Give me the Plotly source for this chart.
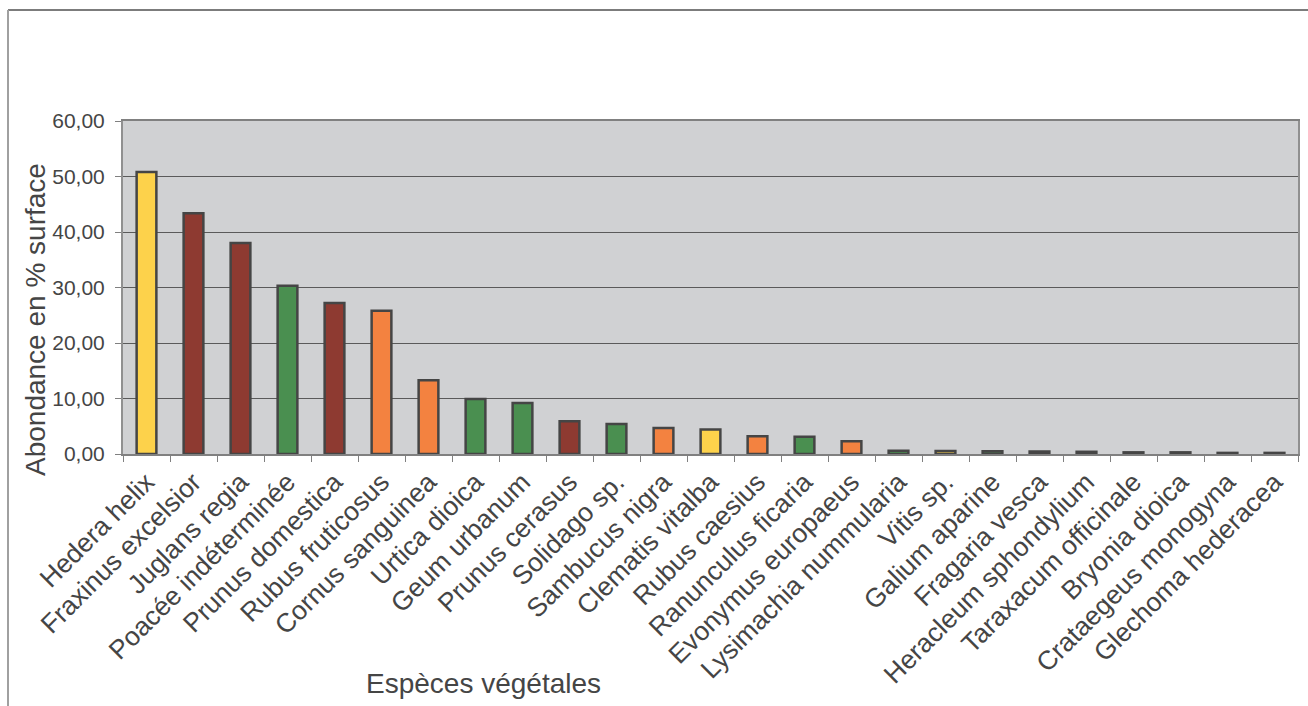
import plotly.graph_objects as go

species = ["Hedera helix", "Fraxinus excelsior", "Juglans regia", "Poacée indéterminée",
           "Prunus domestica", "Rubus fruticosus", "Cornus sanguinea", "Urtica dioica",
           "Geum urbanum", "Prunus cerasus", "Solidago sp.", "Sambucus nigra",
           "Clematis vitalba", "Rubus caesius", "Ranunculus ficaria", "Evonymus europaeus",
           "Lysimachia nummularia", "Vitis sp.", "Galium aparine", "Fragaria vesca",
           "Heracleum sphondylium", "Taraxacum officinale", "Bryonia dioica",
           "Crataegeus monogyna", "Glechoma hederacea"]
abundance = [50.8, 43.4, 38.0, 30.3, 27.2, 25.8, 13.3, 9.9, 9.2, 5.9, 5.4, 4.7, 4.4,
             3.2, 3.1, 2.3, 0.6, 0.55, 0.5, 0.45, 0.4, 0.3, 0.3, 0.2, 0.2]
groups = ["yellow", "red", "red", "green", "red", "orange", "orange", "green", "green",
          "red", "green", "orange", "yellow", "orange", "green", "orange", "green",
          "yellow", "green", "green", "green", "green", "green", "red", "green"]
palette = {"yellow": "#FDD24B", "red": "#8E3A31", "green": "#4A8F50", "orange": "#F38240"}

fig = go.Figure(go.Bar(
    x=species, y=abundance,
    marker=dict(color=[palette[g] for g in groups], line=dict(color="#454545", width=2.5)),
    width=0.42,
))

font = "Liberation Sans, Arial, sans-serif"
fig.update_layout(
    width=1308, height=706,
    margin=dict(l=123, r=10, t=121, b=252),
    paper_bgcolor="white", plot_bgcolor="#D0D1D3",
    separators=",.",
    showlegend=False,
    font=dict(family=font, color="#404040", size=21),
)
fig.update_xaxes(
    tickangle=-45, tickfont=dict(size=26.5, color="#454545"),
    ticks="outside", ticklen=6, tickcolor="#808080", tickson="boundaries",
    showline=True, linecolor="#808080", linewidth=2, mirror=True,
    showgrid=False, automargin=False,
)
fig.update_yaxes(
    range=[0, 60], dtick=10, tickformat=".2f",
    tickfont=dict(size=21, color="#454545"), ticklabelstandoff=6,
    ticks="outside", ticklen=6, tickcolor="#808080",
    showline=True, linecolor="#909090", linewidth=2, mirror=True,
    showgrid=True, gridcolor="#5A5A5A", gridwidth=1,
    zeroline=False, automargin=False,
)
fig.add_annotation(text="Abondance en % surface", xref="paper", yref="paper",
                   x=(35 - 123) / 1175, y=(454 - 320) / 333, textangle=-90, showarrow=False,
                   font=dict(size=28, color="#454545"), xanchor="center", yanchor="middle")
fig.add_annotation(text="Espèces végétales", xref="paper", yref="paper",
                   x=(483 - 123) / 1175, y=-(683 - 454) / 333, showarrow=False,
                   font=dict(size=28, color="#454545"), xanchor="center", yanchor="middle")
# outer chart frame
fig.add_shape(type="line", xref="paper", yref="paper",
              x0=(8 - 123) / 1175, x1=1.05, y0=(454 - 10) / 333, y1=(454 - 10) / 333,
              line=dict(color="#505050", width=1.5))
fig.add_shape(type="line", xref="paper", yref="paper",
              x0=(8 - 123) / 1175, x1=(8 - 123) / 1175, y0=(454 - 10) / 333, y1=-1.0,
              line=dict(color="#A0A0A0", width=2))

fig.write_html("out.html", config={"displayModeBar": False},
               post_script="document.body.style.margin='0px';")
